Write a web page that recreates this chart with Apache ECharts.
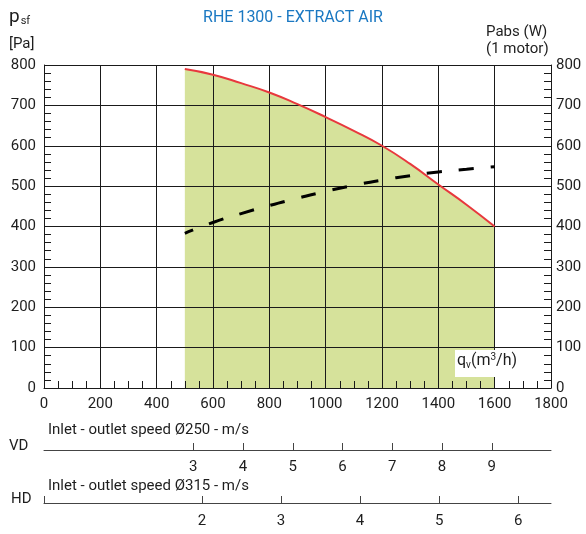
<!DOCTYPE html>
<html>
<head>
<meta charset="utf-8">
<script src="https://cdn.jsdelivr.net/npm/echarts@6/dist/echarts.min.js"></script>
<style>html,body{margin:0;padding:0;background:#fff}#c{width:586px;height:534px}</style>
</head>
<body>
<div id="c"></div>
<script>
// ---- data ----
const flow = [500, 600, 700, 800, 900, 1000, 1100, 1200, 1300, 1400, 1500, 1600];          // qv m3/h
const pressure = [790, 776, 755, 732, 703, 671, 637, 600, 555, 504, 454, 400];              // psf Pa
const power = [383, 410, 432, 452, 470, 487, 502, 515, 526, 535, 542, 548];                 // Pabs W
const vdSpeedTicks = [3, 4, 5, 6, 7, 8, 9];           // Ø250 m/s labels
const hdSpeedTicks = [2, 3, 4, 5, 6];                 // Ø315 m/s labels
const hdTickMarks = [0, 2, 3, 4, 5, 6];
const vdSpeedMax = 10.19;   // speed at 1800 m3/h, Ø250
const hdSpeedMax = 6.416;   // speed at 1800 m3/h, Ø315

const FONT = 'Roboto';
const TXT = '#1e1e1e';
const GRIDC = '#1a1a1a';

const chart = echarts.init(document.getElementById('c'), null, {renderer: 'canvas'});

const pts = (ys) => flow.map((x, i) => [x, ys[i]]);
const plain = (v) => String(v);

const baseLabel = {color: TXT, fontFamily: FONT, fontSize: 15, formatter: plain};

const option = {
  animation: false,
  backgroundColor: '#fff',
  title: {
    text: 'RHE 1300 - EXTRACT AIR',
    left: 'center', top: 5,
    textStyle: {color: '#1a78c2', fontFamily: FONT, fontSize: 16, fontWeight: 'normal'}
  },
  grid: [
    {left: 44, right: 35, top: 65, height: 323},
    {left: 44, right: 35, top: 440, height: 10},
    {left: 44, right: 35, top: 493, height: 10}
  ],
  xAxis: [
    {
      gridIndex: 0, type: 'value', min: 0, max: 1800, interval: 200, z: 5,
      axisLine: {show: true, onZero: false, lineStyle: {color: GRIDC, width: 1}},
      axisTick: {show: true, inside: true, length: 7, lineStyle: {color: GRIDC}},
      minorTick: {show: true, splitNumber: 4, length: 7, lineStyle: {color: GRIDC}},
      splitLine: {show: true, lineStyle: {color: GRIDC, width: 1}},
      axisLabel: Object.assign({margin: 9}, baseLabel)
    },
    {
      gridIndex: 1, type: 'value', min: 0, max: vdSpeedMax, position: 'bottom',
      axisLine: {show: true, onZero: false, lineStyle: {color: '#444', width: 1}},
      axisTick: {show: true, inside: true, length: 7, customValues: vdSpeedTicks, lineStyle: {color: '#444'}},
      splitLine: {show: false},
      axisLabel: Object.assign({margin: 10, customValues: vdSpeedTicks}, baseLabel)
    },
    {
      gridIndex: 2, type: 'value', min: 0, max: hdSpeedMax, position: 'bottom',
      axisLine: {show: true, onZero: false, lineStyle: {color: '#444', width: 1}},
      axisTick: {show: true, inside: true, length: 7, customValues: hdTickMarks, lineStyle: {color: '#444'}},
      splitLine: {show: false},
      axisLabel: Object.assign({margin: 11, customValues: hdSpeedTicks}, baseLabel)
    }
  ],
  yAxis: [
    {
      gridIndex: 0, type: 'value', min: 0, max: 800, interval: 100, position: 'left', z: 5,
      axisLine: {show: true, lineStyle: {color: GRIDC, width: 1}},
      axisTick: {show: true, inside: true, length: 7, lineStyle: {color: GRIDC}},
      minorTick: {show: true, splitNumber: 5, length: 7, lineStyle: {color: GRIDC}},
      splitLine: {show: true, lineStyle: {color: GRIDC, width: 1}},
      axisLabel: Object.assign({margin: 8}, baseLabel)
    },
    {
      gridIndex: 0, type: 'value', min: 0, max: 800, interval: 100, position: 'right', z: 5,
      axisLine: {show: true, lineStyle: {color: GRIDC, width: 1}},
      axisTick: {show: true, inside: true, length: 7, lineStyle: {color: GRIDC}},
      minorTick: {show: true, splitNumber: 5, length: 7, lineStyle: {color: GRIDC}},
      splitLine: {show: false},
      axisLabel: Object.assign({margin: 5}, baseLabel)
    },
    {gridIndex: 1, type: 'value', show: false},
    {gridIndex: 2, type: 'value', show: false}
  ],
  series: [
    {
      type: 'line', xAxisIndex: 0, yAxisIndex: 0, data: pts(pressure), smooth: 0.5,
      symbol: 'none', z: 1, lineStyle: {width: 0},
      areaStyle: {color: '#d6e29b', opacity: 1}
    },
    {
      type: 'line', xAxisIndex: 0, yAxisIndex: 0, data: pts(pressure), smooth: 0.5,
      symbol: 'none', z: 10, lineStyle: {color: '#e8383d', width: 2}
    },
    {
      type: 'line', xAxisIndex: 0, yAxisIndex: 1, data: pts(power), smooth: 0.5,
      symbol: 'none', z: 10, lineStyle: {color: '#000', width: 3, type: [15, 17], dashOffset: 6}
    }
  ],
  graphic: [
    {type: 'text', left: 9, top: 8, z: 20,
      style: {text: '{p|p}{s|sf}', rich: {p: {fontSize: 19, fontFamily: FONT, fill: TXT}, s: {fontSize: 11, fontFamily: FONT, fill: TXT, padding: [8, 0, 0, 1]}}}},
    {type: 'text', left: 9, top: 37, z: 20,
      style: {text: '[Pa]', fontSize: 15, fontFamily: FONT, fill: TXT}},
    {type: 'text', left: 486, top: 25, z: 20,
      style: {text: 'Pabs (W)', fontSize: 15, fontFamily: FONT, fill: TXT}},
    {type: 'text', left: 486, top: 42, z: 20,
      style: {text: '(1 motor)', fontSize: 15, fontFamily: FONT, fill: TXT}},
    {type: 'rect', shape: {x: 455, y: 350, width: 73, height: 27}, z: 20, style: {fill: '#fff'}},
    {type: 'text', left: 457, top: 352, z: 21,
      style: {text: '{a|q}{b|v}{a|(m}{c|3}{a|/h)}', rich: {
        a: {fontSize: 16, fontFamily: FONT, fill: TXT},
        b: {fontSize: 10, fontFamily: FONT, fill: TXT, padding: [8, 0, 0, 0]},
        c: {fontSize: 10, fontFamily: FONT, fill: TXT, padding: [0, 0, 8, 0]}
      }}},
    {type: 'text', left: 48, top: 423, z: 20,
      style: {text: 'Inlet - outlet speed Ø250 - m/s', fontSize: 15, fontFamily: FONT, fill: TXT}},
    {type: 'text', left: 9, top: 439, z: 20,
      style: {text: 'VD', fontSize: 15, fontFamily: FONT, fill: TXT}},
    {type: 'text', left: 48, top: 479, z: 20,
      style: {text: 'Inlet - outlet speed Ø315 - m/s', fontSize: 15, fontFamily: FONT, fill: TXT}},
    {type: 'text', left: 11, top: 492, z: 20,
      style: {text: 'HD', fontSize: 15, fontFamily: FONT, fill: TXT}}
  ]
};
chart.setOption(option);
</script>
</body>
</html>
